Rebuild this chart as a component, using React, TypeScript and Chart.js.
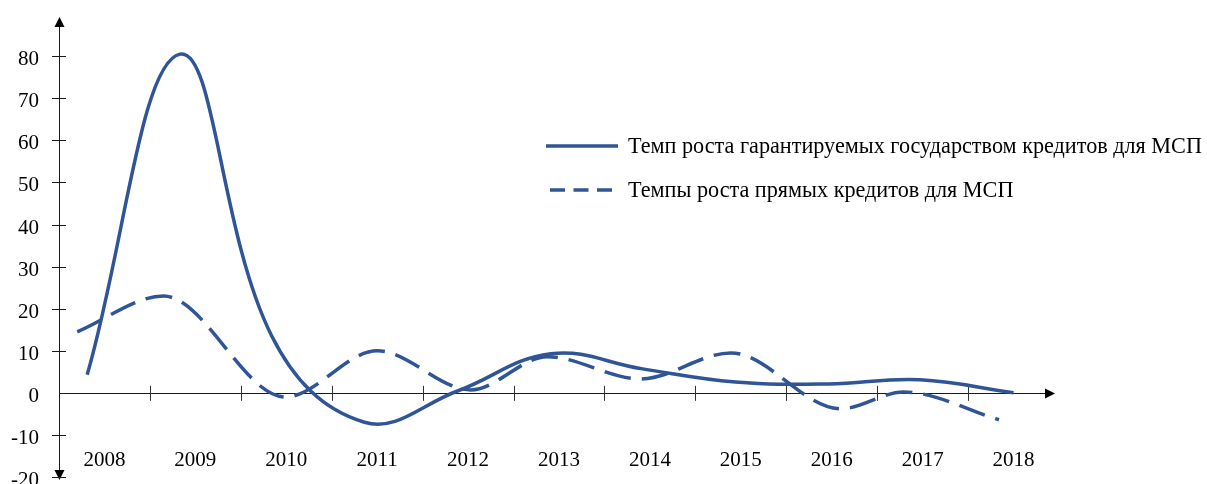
import React, { useEffect, useRef } from 'react';
import { Chart, registerables } from 'chart.js';

Chart.register(...registerables);

// ---- Data ----
const categories = ['2008', '2009', '2010', '2011', '2012', '2013', '2014', '2015', '2016', '2017', '2018'];
const categoryCenters = [2008, 2009, 2010, 2011, 2012, 2013, 2014, 2015, 2016, 2017, 2018];
const tickBoundaries = [2008.5, 2009.5, 2010.5, 2011.5, 2012.5, 2013.5, 2014.5, 2015.5, 2016.5, 2017.5];
const yTicks = [-20, -10, 0, 10, 20, 30, 40, 50, 60, 70, 80];

const seriesNames = [
  'Темп роста гарантируемых государством кредитов для МСП',
  'Темпы роста прямых кредитов для МСП',
];

const guaranteedX = [2007.81, 2008.83, 2009.84, 2010.86, 2011.89, 2012.91, 2013.92, 2014.94, 2015.96, 2016.97, 2018.0];
const guaranteedY = [4.3, 80.5, 13.5, -7, 0.5, 9.3, 5.7, 2.6, 2.1, 3.1, 0];

const directX = [2007.7, 2008.65, 2009.99, 2011.0, 2012.03, 2012.87, 2013.9, 2014.89, 2016.1, 2016.79, 2017.84];
const directY = [14.5, 23, -1, 10, 0.7, 8.6, 3.3, 9.5, -3.8, 0.2, -6.4];

const X_MIN = 2007.5;
const X_MAX = 2018.456;
const Y_MIN = -20;
const Y_MAX = 89.33;

const LINE_COLOR = '#2F5597';
const FONT = '"Liberation Serif", "Times New Roman", serif';

const axesPlugin = {
  id: 'customAxes',
  beforeDatasetsDraw(chart: any) {
    const { ctx } = chart;
    const x = chart.scales.x;
    const y = chart.scales.y;
    const ax = x.left;
    const y0 = y.getPixelForValue(0);
    ctx.save();
    ctx.strokeStyle = '#1a1a1a';
    ctx.fillStyle = '#000';
    ctx.lineWidth = 1;
    // y axis line
    ctx.beginPath();
    ctx.moveTo(ax + 0.5, y.top + 6);
    ctx.lineTo(ax + 0.5, y.bottom - 4);
    ctx.stroke();
    // top arrow
    ctx.beginPath();
    ctx.moveTo(ax + 0.5, y.top);
    ctx.lineTo(ax - 4.5, y.top + 10);
    ctx.lineTo(ax + 5.5, y.top + 10);
    ctx.closePath();
    ctx.fill();
    // bottom arrow
    ctx.beginPath();
    ctx.moveTo(ax + 0.5, y.bottom + 3);
    ctx.lineTo(ax - 4.5, y.bottom - 7);
    ctx.lineTo(ax + 5.5, y.bottom - 7);
    ctx.closePath();
    ctx.fill();
    // x axis line
    ctx.beginPath();
    ctx.moveTo(ax, Math.round(y0) + 0.5);
    ctx.lineTo(x.right - 6, Math.round(y0) + 0.5);
    ctx.stroke();
    // right arrow
    ctx.beginPath();
    ctx.moveTo(x.right, Math.round(y0) + 0.5);
    ctx.lineTo(x.right - 10, Math.round(y0) - 4.5);
    ctx.lineTo(x.right - 10, Math.round(y0) + 5.5);
    ctx.closePath();
    ctx.fill();
    // y ticks and labels
    ctx.font = `21px ${FONT}`;
    ctx.textAlign = 'right';
    ctx.textBaseline = 'middle';
    yTicks.forEach((v) => {
      const py = Math.round(y.getPixelForValue(v)) + 0.5;
      if (v !== 0) {
        ctx.beginPath();
        ctx.moveTo(ax - 7, py);
        ctx.lineTo(ax + 7, py);
        ctx.stroke();
      }
      ctx.fillText(String(v), ax - 20, py + 3);
    });
    // x ticks
    ctx.strokeStyle = '#333';
    tickBoundaries.forEach((v) => {
      const px = Math.round(x.getPixelForValue(v)) + 0.5;
      ctx.beginPath();
      ctx.moveTo(px, y0 - 7);
      ctx.lineTo(px, y0 + 8);
      ctx.stroke();
    });
    // x labels
    ctx.textAlign = 'center';
    categories.forEach((c, i) => {
      const px = x.getPixelForValue(categoryCenters[i]);
      ctx.fillText(c, px, y.bottom - 17);
    });
    ctx.restore();
  },
  afterDraw(chart: any) {
    const { ctx } = chart;
    ctx.save();
    ctx.strokeStyle = LINE_COLOR;
    ctx.lineWidth = 3.5;
    // solid sample
    ctx.beginPath();
    ctx.moveTo(546, 146);
    ctx.lineTo(618, 146);
    ctx.stroke();
    // dashed sample
    ctx.setLineDash([15, 8.5]);
    ctx.beginPath();
    ctx.moveTo(550, 190);
    ctx.lineTo(614, 190);
    ctx.stroke();
    ctx.setLineDash([]);
    ctx.fillStyle = '#000';
    ctx.font = `22.2px ${FONT}`;
    ctx.textAlign = 'left';
    ctx.textBaseline = 'middle';
    ctx.fillText(seriesNames[0], 628, 147);
    ctx.fillText(seriesNames[1], 628, 191);
    ctx.restore();
  },
};

export default function App() {
  const canvasRef = useRef<HTMLCanvasElement | null>(null);

  useEffect(() => {
    if (!canvasRef.current) return;
    const chart = new Chart(canvasRef.current, {
      type: 'line',
      data: {
        datasets: [
          {
            label: seriesNames[0],
            data: guaranteedX.map((xv, i) => ({ x: xv, y: guaranteedY[i] })),
            borderColor: LINE_COLOR,
            borderWidth: 3.5,
            pointRadius: 0,
            tension: 0.4,
            fill: false,
            borderCapStyle: 'butt',
          },
          {
            label: seriesNames[1],
            data: directX.map((xv, i) => ({ x: xv, y: directY[i] })),
            borderColor: LINE_COLOR,
            borderWidth: 3.5,
            borderDash: [27, 11],
            pointRadius: 0,
            cubicInterpolationMode: 'monotone',
            fill: false,
            borderCapStyle: 'butt',
          },
        ],
      },
      options: {
        animation: false,
        responsive: true,
        maintainAspectRatio: false,
        clip: false as any,
        layout: { padding: { left: 59, right: 152, top: 17, bottom: 7 } },
        plugins: {
          legend: { display: false },
          tooltip: { enabled: false },
        },
        scales: {
          x: { type: 'linear', min: X_MIN, max: X_MAX, display: false },
          y: { type: 'linear', min: Y_MIN, max: Y_MAX, display: false },
        },
      },
      plugins: [axesPlugin],
    });
    return () => chart.destroy();
  }, []);

  return (
    <div style={{ position: 'fixed', left: 0, top: 0, width: 1207, height: 484, background: '#fff' }}>
      <canvas ref={canvasRef} />
    </div>
  );
}
